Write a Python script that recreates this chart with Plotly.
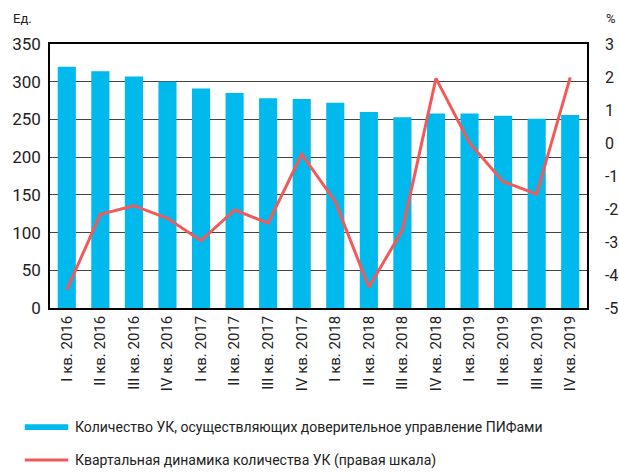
import plotly.graph_objects as go

categories = ["I кв. 2016", "II кв. 2016", "III кв. 2016", "IV кв. 2016",
              "I кв. 2017", "II кв. 2017", "III кв. 2017", "IV кв. 2017",
              "I кв. 2018", "II кв. 2018", "III кв. 2018", "IV кв. 2018",
              "I кв. 2019", "II кв. 2019", "III кв. 2019", "IV кв. 2019"]
count_uk = [320, 314, 307, 300, 291, 285, 278, 277, 272, 260, 253, 258, 258, 255, 251, 256]
dynamics = [-4.45, -2.16, -1.9, -2.28, -2.96, -2.03, -2.43, -0.34,
            -1.78, -4.37, -2.64, 1.96, 0.0, -1.17, -1.55, 1.99]
left_ticks = [0, 50, 100, 150, 200, 250, 300, 350]
right_ticks = [-5, -4, -3, -2, -1, 0, 1, 2, 3]
right_labels = ["-5", "-4", "-3", "-2", "-1", "0", "1", "2", "3"]

bar_name = "Количество УК, осуществляющих доверительное управление ПИФами"
line_name = "Квартальная динамика количества УК (правая шкала)"

FONT = "Roboto, sans-serif"
BLUE = "#00b9ed"
RED = "#f25a5a"

fig = go.Figure()
fig.add_trace(go.Bar(x=categories, y=count_uk, name=bar_name,
                     marker=dict(color=BLUE, line=dict(width=0)), yaxis="y"))
fig.add_trace(go.Scatter(x=categories, y=dynamics, name=line_name, mode="lines",
                         line=dict(color=RED, width=3), yaxis="y2"))

fig.update_layout(
    width=619, height=474,
    margin=dict(l=50, r=32, t=44, b=166, autoexpand=False),
    paper_bgcolor="white", plot_bgcolor="white",
    showlegend=False,
    bargap=0.46,
    font=dict(family=FONT, color="#222", size=16),
    xaxis=dict(tickangle=-90, tickfont=dict(size=15), showgrid=False,
               showline=True, linecolor="black", linewidth=1.5, mirror=True,
               ticks="", ticklen=0, automargin=False),
    yaxis=dict(range=[0, 350], tickvals=left_ticks, showgrid=True,
               gridcolor="#444", gridwidth=1, zeroline=False,
               showline=True, linecolor="black", linewidth=1.5,
               tickfont=dict(size=17), automargin=False, ticklabelstandoff=4),
    yaxis2=dict(range=[-5, 3], tickvals=right_ticks, ticktext=right_labels,
                overlaying="y", side="right",
                showgrid=False, zeroline=False, showline=True, linecolor="black",
                linewidth=1.5, tickfont=dict(size=16), automargin=False,
                ticklabelstandoff=13),
)

fig.add_annotation(text="Ед.", xref="paper", yref="paper", x=-0.072, y=1.06,
                   xanchor="left", yanchor="bottom", showarrow=False, font=dict(size=13))
fig.add_annotation(text="%", xref="paper", yref="paper", x=1.032, y=1.06,
                   xanchor="left", yanchor="bottom", showarrow=False, font=dict(size=13))

# custom legend below the plot
fig.add_shape(type="rect", xref="paper", yref="paper",
              x0=-0.047, x1=0.034, y0=-0.462, y1=-0.440,
              fillcolor=BLUE, line=dict(width=0))
fig.add_annotation(text=bar_name, xref="paper", yref="paper", x=0.043, y=-0.451,
                   xanchor="left", yanchor="middle", showarrow=False, font=dict(size=14))
fig.add_shape(type="line", xref="paper", yref="paper",
              x0=-0.047, x1=0.034, y0=-0.576, y1=-0.576,
              line=dict(color=RED, width=3))
fig.add_annotation(text=line_name, xref="paper", yref="paper", x=0.043, y=-0.576,
                   xanchor="left", yanchor="middle", showarrow=False, font=dict(size=14))

fig.write_html("out.html",
               config={"displayModeBar": False},
               post_script="document.body.style.margin='0';"
                           "document.body.style.overflow='hidden';")
